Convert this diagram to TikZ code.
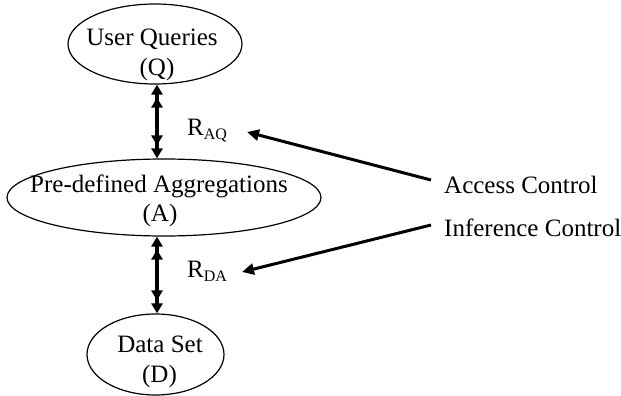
\documentclass[tikz,border=0pt]{standalone}
\usepackage{fontspec}
\setmainfont{Liberation Serif}
\usetikzlibrary{shapes.geometric,arrows.meta}
\begin{document}
\begin{tikzpicture}[x=1pt,y=-1pt,
  oval/.style={draw,ellipse,line width=1.2pt,inner sep=0pt},
  txt/.style={anchor=base,inner sep=0pt,font=\fontsize{25}{29}\selectfont},
  twohead/.tip={Triangle[length=10pt,width=11pt,sep=3pt]Triangle[length=10pt,width=11pt]},
  link/.style={line width=3.2pt,twohead-twohead},
  ctrl/.style={line width=3pt,-{Triangle[length=12pt,width=11pt]}}]
\useasboundingbox (0,0) rectangle (621,396);

% the three levels
\node[oval,minimum width=174pt,minimum height=80pt] (Q) at (155,44) {};
\node[oval,minimum width=314pt,minimum height=77pt] (A) at (164,197.5) {};
\node[oval,minimum width=137pt,minimum height=81pt] (D) at (155.5,354.5) {};

\node[txt] (q1) at (152,46) {User Queries};
\node[txt] (q2) at (157,75) {(Q)};
\node[txt] (a1) at (159,192) {Pre-defined Aggregations};
\node[txt] (a2) at (160,221) {(A)};
\node[txt] (d1) at (160,352) {Data Set};
\node[txt] (d2) at (159.5,382) {(D)};

% relations between levels
\coordinate (ax) at (157,0);
\draw[link] (ax |- Q.south) -- (ax |- A.north);
\draw[link] (ax |- A.south) -- (ax |- D.north);

\node[txt,anchor=base west] (raq) at (187,135)
  {R\raisebox{-4pt}{\fontsize{16}{16}\selectfont AQ}};
\node[txt,anchor=base west] (rda) at (187,277)
  {R\raisebox{-4pt}{\fontsize{16}{16}\selectfont DA}};

% controls
\node[txt,anchor=base west] (acc) at (444,193) {Access Control};
\node[txt,anchor=base west] (inf) at (444,236) {Inference Control};

\coordinate (acctail) at (431,180);
\coordinate (acctip) at (247,132);
\coordinate (inftail) at (431,225);
\coordinate (inftip) at (242,272);
\draw[ctrl] (acctail) -- (acctip);
\draw[ctrl] (inftail) -- (inftip);
\end{tikzpicture}
\end{document}
